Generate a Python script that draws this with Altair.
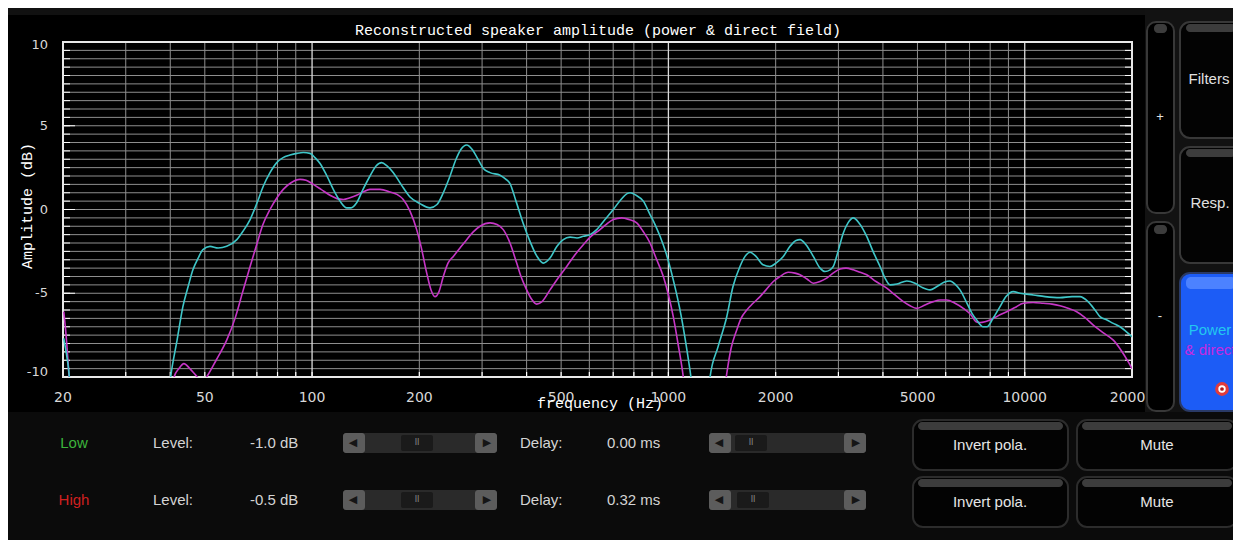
import altair as alt
import pandas as pd

# ---------------- data ----------------
power_freq = [
    20.1, 20.7, 21.5, 28.9, 38.7, 40.1, 41.8, 43.4, 44.9, 46.3,
    47.9, 49.4, 51.7, 54.5, 57.6, 61.5, 64.0, 67.0, 70.1, 73.0,
    76.2, 79.6, 82.9, 86.7, 90.7, 94.5, 98.7, 101.9, 105.3, 110.1,
    114.7, 119.8, 125.1, 128.6, 133.4, 139.0, 145.4, 151.2, 156.8, 162.3,
    169.1, 177.7, 188.3, 200.9, 214.3, 224.2, 233.5, 243.9, 253.5, 261.8,
    271.6, 281.1, 292.2, 302.4, 315.8, 336.9, 350.2, 359.3, 373.5, 391.6,
    408.9, 427.8, 445.6, 465.3, 486.8, 507.0, 529.5, 554.0, 577.0, 602.5,
    629.2, 663.9, 700.5, 736.3, 765.4, 780.4, 811.3, 850.4, 888.1, 917.3,
    947.4, 984.8, 1032, 1085, 1150, 1227, 1267, 1309, 1378, 1458,
    1518, 1588, 1641, 1694, 1761, 1843, 1928, 2004, 2101, 2194,
    2281, 2341, 2433, 2551, 2664, 2751, 2842, 2903, 2993, 3097,
    3192, 3303, 3427, 3602, 3752, 3926, 4055, 4188, 4382, 4666,
    4921, 5149, 5422, 5673, 5935, 6170, 6372, 6582, 6886, 7112,
    7332, 7636, 7836, 8146, 8523, 8860, 9288, 9699, 10570, 11402,
    12562, 13574, 14292, 15050, 15748, 16264, 17016, 17724, 18510, 19528,
    20000]
power_db = [
    -7.7, -9.4, -13, -20, -13, -10, -7.8, -5.8, -4.6, -3.6,
    -2.9, -2.4, -2.2, -2.3, -2.2, -1.8, -1.3, -0.6, 0.4, 1.4,
    2.2, 2.8, 3.1, 3.25, 3.35, 3.4, 3.35, 3.1, 2.75, 2.0,
    1.2, 0.5, 0.1, 0.1, 0.4, 1.2, 2.0, 2.6, 2.8, 2.6,
    2.2, 1.5, 0.75, 0.35, 0.1, 0.3, 1.0, 2.0, 3.0, 3.6,
    3.85, 3.6, 3.0, 2.45, 2.2, 2.05, 1.8, 1.55, 0.5, -0.85,
    -1.9, -2.8, -3.2, -2.9, -2.2, -1.8, -1.65, -1.7, -1.6, -1.5,
    -1.2, -0.6, 0.0, 0.6, 0.95, 1.0, 0.85, 0.5, -0.3, -0.9,
    -1.6, -2.6, -4.2, -6.3, -9.6, -14, -14, -10, -8.2, -6.4,
    -4.6, -3.4, -2.8, -2.55, -2.8, -3.3, -3.4, -3.2, -2.8, -2.2,
    -1.85, -1.8, -2.1, -2.8, -3.5, -3.7, -3.6, -3.4, -2.5, -1.4,
    -0.8, -0.5, -0.8, -1.6, -2.5, -3.4, -4.1, -4.5, -4.45, -4.27,
    -4.4, -4.65, -4.8, -4.6, -4.35, -4.27, -4.45, -4.8, -5.6, -6.2,
    -6.6, -7.0, -7.0, -6.5, -5.8, -5.2, -4.9, -5.0, -5.1, -5.2,
    -5.26, -5.2, -5.2, -5.5, -6.0, -6.4, -6.6, -6.8, -7.0, -7.4,
    -7.6]

direct_freq = [
    20.1, 20.4, 20.8, 21.2, 28.9, 39.9, 41.0, 42.3, 43.7, 45.4,
    47.2, 49.4, 50.6, 53.8, 57.6, 60.8, 64.1, 67.0, 69.9, 72.8,
    76.2, 79.7, 83.0, 87.3, 92.5, 96.2, 100.8, 106.0, 112.3, 117.5,
    122.4, 127.8, 133.4, 139.0, 145.4, 155.1, 165.5, 173.1, 180.3, 188.3,
    196.6, 202.2, 209.8, 215.7, 221.3, 227.1, 233.5, 240.7, 249.1, 260.1,
    271.6, 282.9, 296.0, 315.8, 330.4, 344.1, 359.3, 375.2, 385.8, 400.2,
    411.5, 427.0, 441.8, 465.3, 489.9, 518.3, 546.9, 577.0, 606.4, 642.8,
    668.2, 700.5, 739.6, 775.4, 814.9, 848.8, 888.1, 923.2, 967.8, 997.6,
    1032, 1064, 1101, 1150, 1351, 1432, 1458, 1499, 1555, 1599,
    1659, 1728, 1808, 1879, 1970, 2057, 2170, 2266, 2341, 2449,
    2551, 2664, 2782, 2897, 3031, 3151, 3303, 3450, 3602, 3826,
    4100, 4325, 4565, 4767, 4977, 5249, 5538, 5783, 6039, 6372,
    6724, 7067, 7299, 7490, 7735, 7990, 8413, 8900, 9391, 9909,
    10549, 11277, 11930, 12562, 13226, 13990, 14762, 15576, 16582, 17724,
    18632, 19528, 20000]
direct_db = [
    -6.1, -7.5, -10, -13, -20, -13, -10, -9.5, -9.2, -9.5,
    -9.9, -10.3, -10.0, -9.0, -7.8, -6.5, -4.8, -3.4, -2.1, -0.9,
    0.0, 0.7, 1.2, 1.6, 1.8, 1.75, 1.5, 1.2, 0.85, 0.65,
    0.6, 0.7, 0.85, 1.05, 1.2, 1.2, 1.05, 0.9, 0.6, -0.1,
    -1.2, -2.2, -3.8, -4.8, -5.2, -4.9, -4.0, -3.2, -2.8, -2.3,
    -1.8, -1.35, -1.0, -0.8, -0.9, -1.2, -2.0, -3.2, -4.0, -4.8,
    -5.3, -5.65, -5.5, -4.8, -4.1, -3.4, -2.7, -2.1, -1.6, -1.2,
    -0.9, -0.6, -0.5, -0.6, -0.8, -1.3, -2.0, -2.9, -4.0, -5.0,
    -6.4, -8.0, -10, -14, -14, -11.0, -9.8, -8.3, -7.2, -6.5,
    -6.0, -5.6, -5.2, -4.8, -4.3, -4.0, -3.75, -3.8, -3.9, -4.15,
    -4.4, -4.3, -4.1, -3.8, -3.55, -3.5, -3.6, -3.75, -3.9, -4.3,
    -4.7, -5.1, -5.5, -5.75, -5.9, -5.7, -5.5, -5.4, -5.4, -5.6,
    -5.9, -6.3, -6.7, -6.75, -6.7, -6.6, -6.35, -6.1, -5.85, -5.6,
    -5.55, -5.6, -5.65, -5.75, -5.9, -6.1, -6.45, -6.9, -7.35, -7.8,
    -8.4, -9.1, -9.5]

grid_db = [-9.5, -9, -8.5, -8, -7.5, -7, -6.5, -6, -5.5, -5, -4.5, -4, -3.5,
           -3, -2.5, -2, -1.5, -1, -0.5, 0, 0.5, 1, 1.5, 2, 2.5, 3, 3.5, 4,
           4.5, 5, 5.5, 6, 6.5, 7, 7.5, 8, 8.5, 9, 9.5]
major_db = [-5, 0, 5]
minor_freq = [30, 40, 50, 60, 70, 80, 90, 200, 300, 400, 500, 600, 700, 800,
              900, 2000, 3000, 4000, 5000, 6000, 7000, 8000, 9000]
decade_freq = [100, 1000, 10000]
x_ticks = [20, 50, 100, 200, 500, 1000, 2000, 5000, 10000, 20000]
x_tick_labels = ["20", "50", "100", "200", "500", "1000", "2000", "5000",
                 "10000", "20000"]
y_ticks = [10, 5, 0, -5, -10]
y_tick_labels = ["10", "5", "0", "-5", "-10"]

# ---------------- layout ----------------
W, H = 1069, 335
OX, OY = 63, 42          # plot origin on the page
CYAN, MAGENTA = "#3fc6c8", "#c636c6"
GRID, WHITE = "#8e8e8e", "#e8e8e8"

xs = alt.Scale(type="log", domain=[20, 20000], nice=False)
ys = alt.Scale(domain=[-10, 10], nice=False, zero=False)
one = pd.DataFrame({"k": [0]})


def box(x1, y1, x2, y2, fill, stroke=None, sw=1.5, r=0):
    kw = dict(fill=fill, cornerRadius=r)
    if stroke:
        kw.update(stroke=stroke, strokeWidth=sw)
    return alt.Chart(one).mark_rect(**kw).encode(
        x=alt.value(x1 - OX), x2=alt.value(x2 - OX),
        y=alt.value(y1 - OY), y2=alt.value(y2 - OY))


def label(x, y, s, color, size=15, align="center", font="Liberation Sans",
          angle=0, baseline="middle"):
    return alt.Chart(one).mark_text(
        text=s, color=color, fontSize=size, align=align, baseline=baseline,
        font=font, angle=angle).encode(x=alt.value(x - OX), y=alt.value(y - OY))


def dot(x, y, size, color):
    return alt.Chart(one).mark_point(
        filled=True, shape="circle", size=size, color=color, opacity=1
    ).encode(x=alt.value(x - OX), y=alt.value(y - OY))


layers = []
# background panels
layers += [
    box(0, 0, 1145, 15, "#111111"),
    box(0, 412, 1241, 548, "#0b0b0b"),
]

# grid
gdf = pd.DataFrame({"g": grid_db})
layers.append(alt.Chart(gdf).mark_rule(color=GRID, strokeWidth=1).encode(
    y=alt.Y("g:Q", scale=ys, axis=None), x=alt.value(0), x2=alt.value(W)))
layers.append(alt.Chart(pd.DataFrame({"f": minor_freq})).mark_rule(
    color=GRID, strokeWidth=1).encode(
    x=alt.X("f:Q", scale=xs, axis=None), y=alt.value(0), y2=alt.value(H)))
layers.append(alt.Chart(pd.DataFrame({"f": decade_freq})).mark_rule(
    color="#dcdcdc", strokeWidth=1.3).encode(
    x=alt.X("f:Q", scale=xs, axis=None), y=alt.value(0), y2=alt.value(H)))
# small inner ticks
for a, b in [(0, 7), (W - 7, W)]:
    layers.append(alt.Chart(gdf).mark_rule(color="#ffffff", strokeWidth=1).encode(
        y=alt.Y("g:Q", scale=ys, axis=None), x=alt.value(a), x2=alt.value(b)))
for a, b in [(0, 12), (W - 12, W)]:
    layers.append(alt.Chart(pd.DataFrame({"g": major_db})).mark_rule(
        color="#ffffff", strokeWidth=1).encode(
        y=alt.Y("g:Q", scale=ys, axis=None), x=alt.value(a), x2=alt.value(b)))
layers.append(alt.Chart(pd.DataFrame({"f": minor_freq + decade_freq})).mark_rule(
    color="#ffffff", strokeWidth=1.2).encode(
    x=alt.X("f:Q", scale=xs, axis=None), y=alt.value(H - 5), y2=alt.value(H)))
# frame
layers.append(alt.Chart(one).mark_rect(
    fillOpacity=0, stroke=WHITE, strokeWidth=2).encode(
    x=alt.value(0), x2=alt.value(W), y=alt.value(0), y2=alt.value(H)))

# tick labels (through the scales)
LBL = "#d8d8d8"
layers.append(alt.Chart(pd.DataFrame({"f": x_ticks, "t": x_tick_labels})).mark_text(
    color=LBL, font="DejaVu Sans", fontSize=14, baseline="middle", align="center"
).encode(x=alt.X("f:Q", scale=xs, axis=None), y=alt.value(356), text="t:N"))
ydf = pd.DataFrame({"v": y_ticks, "t": y_tick_labels})
for cond, dy in [("datum.v == 10", 3), ("datum.v == -10", -5),
                 ("abs(datum.v) < 10", 0)]:
    layers.append(alt.Chart(ydf).transform_filter(cond).mark_text(
        color=LBL, font="DejaVu Sans", fontSize=13, baseline="middle",
        align="right", dy=dy
    ).encode(y=alt.Y("v:Q", scale=ys, axis=None), x=alt.value(-15), text="t:N"))

# titles
layers += [
    label(598, 35, "Reconstructed speaker amplitude (power & direct field)",
          "#ffffff", 15, font="Liberation Mono", baseline="alphabetic"),
    label(600, 408, "frequency (Hz)", "#ffffff", 15, font="Liberation Mono",
          baseline="alphabetic"),
    label(27, 206, "Amplitude (dB)", "#ffffff", 15, font="Liberation Mono",
          angle=270),
]

# curves
curves = pd.concat([
    pd.DataFrame({"freq": direct_freq, "db": direct_db, "series": "direct"}),
    pd.DataFrame({"freq": power_freq, "db": power_db, "series": "power"}),
])
lines = alt.Chart(curves).mark_line(
    clip=True, interpolate="monotone", strokeWidth=1.6).encode(
    x=alt.X("freq:Q", scale=xs, axis=None),
    y=alt.Y("db:Q", scale=ys, axis=None),
    color=alt.Color("series:N", scale=alt.Scale(
        domain=["power", "direct"], range=[CYAN, MAGENTA]), legend=None),
)
layers.append(lines)

# right-hand controls
BTN, EDGE, HL = "#030303", "#383838", "#3c3c3c"
layers += [
    box(1145, 0, 1241, 412, "#121212"),
    box(1147, 22, 1174, 213, "#000000", EDGE, 2, 9),
    box(1154, 24, 1167, 33, HL, r=4),
    label(1160, 117, "+", "#e0e0e0", 13),
    box(1147, 222, 1174, 411, "#000000", EDGE, 2, 9),
    box(1154, 225, 1167, 234, HL, r=4),
    label(1160, 316, "-", "#e0e0e0", 13),
    box(1180, 22, 1246, 138, BTN, EDGE, 2, 10),
    box(1186, 24, 1236, 32, HL, r=4),
    label(1209, 79, "Filters", "#e0e0e0", 15),
    box(1180, 147, 1246, 263, BTN, EDGE, 2, 10),
    box(1186, 149, 1236, 157, HL, r=4),
    label(1210, 203, "Resp.", "#e0e0e0", 15),
    box(1180, 273, 1246, 411, "#1c5cf6", "#2a3a66", 2, 10),
    box(1186, 277, 1236, 289, "#4c82ff", r=5),
    label(1210, 330, "Power", "#22c8f0", 15),
    label(1210, 350, "& direct", "#c829e0", 15),
    dot(1222, 389, 190, "#e23b3b"),
    dot(1222, 389, 55, "#ffffff"),
    dot(1222, 389, 14, "#b01818"),
]

# bottom controls
TXT = "#d4d4d4"
for row_y, name, ncol, level, delay, thumb_l, thumb_d in [
        (443, "Low", "#3cb43c", "-1.0 dB", "0.00 ms", 401, 735),
        (500, "High", "#d02020", "-0.5 dB", "0.32 ms", 401, 737)]:
    top, bot = row_y - 10, row_y + 10
    layers += [
        label(74, row_y, name, ncol, 15),
        label(153, row_y, "Level:", TXT, 15, "left"),
        label(250, row_y, level, TXT, 15, "left"),
        label(520, row_y, "Delay:", TXT, 15, "left"),
        label(607, row_y, delay, TXT, 15, "left"),
    ]
    for (sx1, sx2, tx) in [(343, 497, thumb_l), (709, 866, thumb_d)]:
        layers += [
            box(sx1, top, sx2, bot, "#2a2a2a", r=3),
            box(sx1, top, sx1 + 22, bot, "#5c5c5c", r=3),
            box(sx2 - 22, top, sx2, bot, "#5c5c5c", r=3),
            box(tx, top + 2, tx + 32, bot - 2, "#1a1a1a", r=2),
            label(sx1 + 10, row_y, "◀", "#151515", 11, font="DejaVu Sans"),
            label(sx2 - 10, row_y, "▶", "#151515", 11, font="DejaVu Sans"),
            label(tx + 16, row_y, "II", "#8a8a8a", 8, font="DejaVu Sans"),
        ]
    btop, bbot = row_y - 23, row_y + 27
    layers += [
        box(913, btop, 1068, bbot, BTN, "#2c2c2c", 2, 10),
        box(918, btop + 2, 1063, btop + 10, HL, r=4),
        label(990, row_y + 2, "Invert pola.", "#e6e6e6", 15),
        box(1077, btop, 1237, bbot, BTN, "#2c2c2c", 2, 10),
        box(1082, btop + 2, 1232, btop + 10, HL, r=4),
        label(1157, row_y + 2, "Mute", "#e6e6e6", 15),
    ]

chart = alt.layer(*layers).properties(
    width=W, height=H,
    padding={"left": 55, "top": 34, "right": 101, "bottom": 163},
    autosize=alt.AutoSizeParams(type="none"),
).configure(background="#000000").configure_view(strokeWidth=0)

chart.save("out.html", embed_options={"renderer": "svg", "actions": False})
